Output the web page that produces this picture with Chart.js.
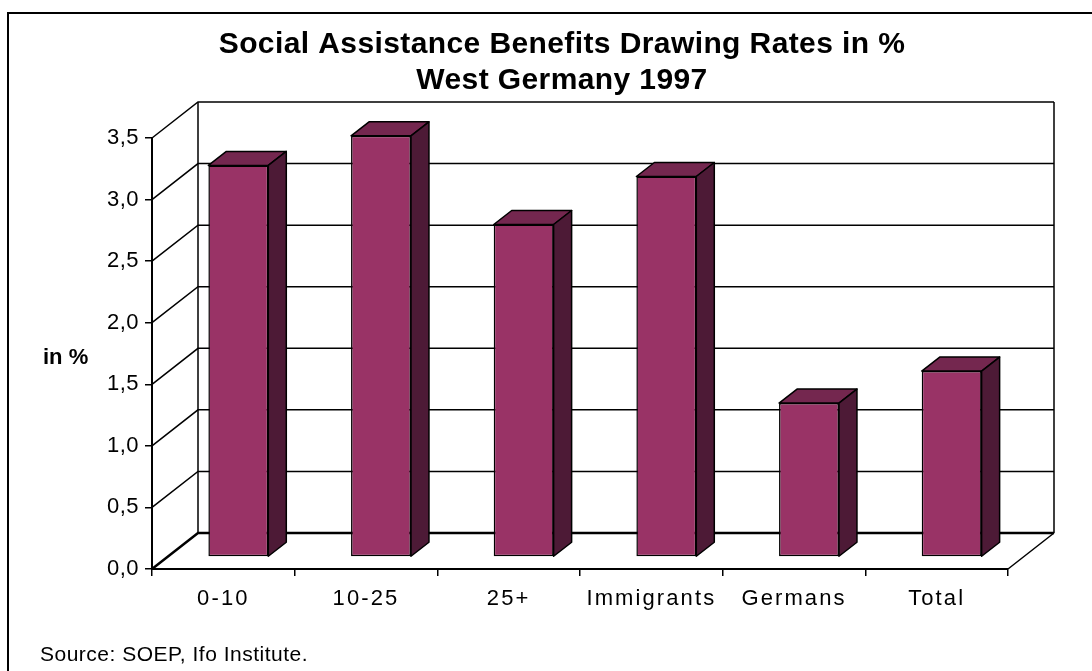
<!DOCTYPE html>
<html>
<head>
<meta charset="utf-8">
<script src="https://cdn.jsdelivr.net/npm/chart.js@4/dist/chart.umd.min.js"></script>
<style>
  html, body { margin: 0; padding: 0; background: #fff; }
  #wrap { width: 1092px; height: 671px; position: relative; }
</style>
</head>
<body>
<div id="wrap"><canvas id="myChart" width="1092" height="671"></canvas></div>
<script>
const categories = ['0-10', '10-25', '25+', 'Immigrants', 'Germans', 'Total'];
const rates = [3.18, 3.42, 2.7, 3.09, 1.25, 1.51];
const yTicks = [0, 0.5, 1, 1.5, 2, 2.5, 3, 3.5];

const titleLines = ['Social Assistance Benefits Drawing Rates in %', 'West Germany 1997'];
const sourceText = 'Source: SOEP, Ifo Institute.';

// 3d offsets (pixels)
const wall = { dx: 46, dy: -36 };
const barFront = { dx: 15, dy: -12 };
const barDepth = { dx: 18, dy: -14 };

const frontColor = '#993366';
const topColor = '#74274f';
const sideColor = '#4d1a36';
const font = '"Liberation Sans", Arial, sans-serif';

function poly(ctx, pts, fill) {
  ctx.beginPath();
  ctx.moveTo(pts[0][0], pts[0][1]);
  for (let i = 1; i < pts.length; i++) ctx.lineTo(pts[i][0], pts[i][1]);
  ctx.closePath();
  ctx.fillStyle = fill;
  ctx.fill();
  ctx.stroke();
}

// wrap a scale's label drawing so it uses some letter spacing
function spaceLabels(scale, spacing) {
  if (!scale || scale._spaced) return;
  const orig = scale.drawLabels.bind(scale);
  scale.drawLabels = (area) => {
    const c = scale.ctx;
    c.save();
    c.letterSpacing = spacing;
    orig(area);
    c.restore();
  };
  scale._spaced = true;
}

const box3d = {
  id: 'box3d',
  afterUpdate(chart) {
    spaceLabels(chart.scales.x, '2.1px');
    spaceLabels(chart.scales.y, '0.5px');
  },
  beforeDraw(chart) {
    const ctx = chart.ctx;
    ctx.save();
    ctx.fillStyle = '#fff';
    ctx.fillRect(0, 0, chart.width, chart.height);
    // outer frame
    ctx.strokeStyle = '#000';
    ctx.lineWidth = 2;
    ctx.beginPath();
    ctx.moveTo(8, chart.height);
    ctx.lineTo(8, 13);
    ctx.lineTo(chart.width, 13);
    ctx.stroke();
    // texts
    ctx.fillStyle = '#000';
    ctx.textAlign = 'center';
    ctx.textBaseline = 'middle';
    ctx.letterSpacing = '0.4px';
    ctx.font = 'bold 30px ' + font;
    ctx.fillText(titleLines[0], 562, 45);
    ctx.fillText(titleLines[1], 562, 81);
    ctx.letterSpacing = '0px';
    ctx.font = 'bold 22px ' + font;
    ctx.textAlign = 'left';
    ctx.fillText('in %', 43, 358);
    ctx.letterSpacing = '0.5px';
    ctx.font = '21px ' + font;
    ctx.fillText(sourceText, 40, 655);
    ctx.restore();
  },
  beforeDatasetsDraw(chart) {
    const ctx = chart.ctx;
    const xs = chart.scales.x;
    const ys = chart.scales.y;
    const l = xs.left, r = xs.right;
    ctx.save();
    ctx.strokeStyle = '#000';
    yTicks.forEach((v) => {
      const y = ys.getPixelForValue(v);
      ctx.beginPath();
      ctx.moveTo(l, y);
      ctx.lineTo(l + wall.dx, y + wall.dy);
      ctx.lineTo(r + wall.dx, y + wall.dy);
      ctx.lineWidth = v === 0 ? 2.5 : 1.5;
      ctx.stroke();
    });
    ctx.lineWidth = 1.5;
    const y0 = ys.getPixelForValue(0);
    const yMax = ys.getPixelForValue(yTicks[yTicks.length - 1]);
    ctx.beginPath();
    ctx.moveTo(l + wall.dx, y0 + wall.dy);
    ctx.lineTo(l + wall.dx, yMax + wall.dy);
    ctx.moveTo(r + wall.dx, y0 + wall.dy);
    ctx.lineTo(r + wall.dx, yMax + wall.dy);
    ctx.moveTo(r, y0);
    ctx.lineTo(r + wall.dx, y0 + wall.dy);
    ctx.stroke();
    ctx.restore();
    // shift native bars into the middle of the depth
    ctx.save();
    ctx.translate(barFront.dx, barFront.dy);
  },
  afterDatasetsDraw(chart) {
    const ctx = chart.ctx;
    ctx.restore();
    ctx.save();
    ctx.translate(barFront.dx, barFront.dy);
    ctx.strokeStyle = '#000';
    ctx.lineWidth = 1.5;
    ctx.lineJoin = 'round';
    chart.getDatasetMeta(0).data.forEach((bar) => {
      const p = bar.getProps(['x', 'y', 'base', 'width'], true);
      const left = p.x - p.width / 2;
      const right = p.x + p.width / 2;
      const top = p.y;
      const bottom = p.base;
      poly(ctx, [[left, top], [left + barDepth.dx, top + barDepth.dy],
        [right + barDepth.dx, top + barDepth.dy], [right, top]], topColor);
      poly(ctx, [[right, top], [right + barDepth.dx, top + barDepth.dy],
        [right + barDepth.dx, bottom + barDepth.dy], [right, bottom]], sideColor);
    });
    ctx.restore();
  }
};

const ctx = document.querySelector('#myChart');
new Chart(ctx, {
  type: 'bar',
  data: {
    labels: categories,
    datasets: [{
      data: rates,
      backgroundColor: frontColor,
      borderColor: '#000',
      borderWidth: 1.5,
      borderSkipped: false,
      categoryPercentage: 1,
      barPercentage: 0.42,
      clip: false
    }]
  },
  options: {
    responsive: false,
    animation: false,
    events: [],
    layout: { padding: { left: 0, right: 84, top: 138, bottom: 0 } },
    plugins: { legend: { display: false }, tooltip: { enabled: false }, title: { display: false } },
    scales: {
      x: {
        offset: true,
        afterFit(scale) { scale.height = 671 - 138 - 431; },
        grid: { offset: true, drawOnChartArea: false, drawTicks: true, tickLength: 7, color: '#000', lineWidth: 1.5 },
        border: { display: true, color: '#000', width: 2 },
        ticks: { color: '#000', font: { family: font, size: 22 }, padding: 10, maxRotation: 0, autoSkip: false }
      },
      y: {
        min: 0,
        max: 3.5,
        afterFit(scale) { scale.width = 152; },
        afterBuildTicks(scale) { scale.ticks = yTicks.map((v) => ({ value: v })); },
        grid: { drawOnChartArea: false, drawTicks: true, tickLength: 7, color: '#000', lineWidth: 1.5 },
        border: { display: true, color: '#000', width: 2 },
        ticks: {
          color: '#000',
          font: { family: font, size: 22 },
          padding: 6,
          callback: (v) => Number(v).toFixed(1).replace('.', ',')
        }
      }
    }
  },
  plugins: [box3d]
});
</script>
</body>
</html>
